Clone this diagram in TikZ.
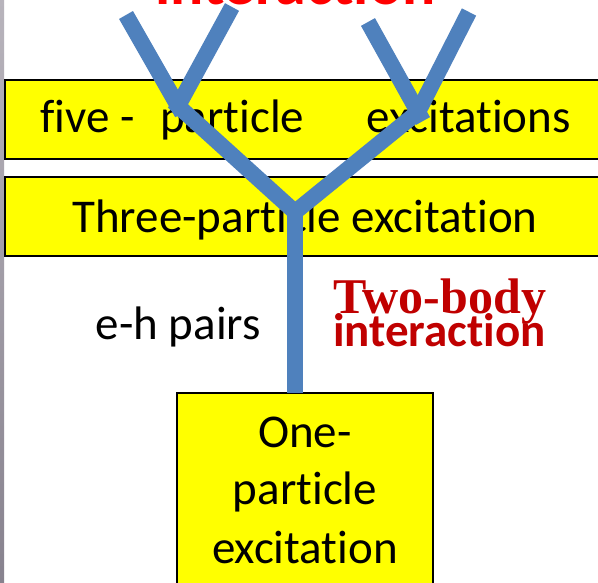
\documentclass[tikz,border=0pt]{standalone}
\usepackage{fontspec}
\usetikzlibrary{calc}
\setmainfont{Carlito}[Ligatures={NoCommon,NoContextual}]
\newfontfamily\serifbold{Liberation Serif}
\definecolor{boxyellow}{HTML}{FFFF00}
\definecolor{branchblue}{HTML}{4F81BD}
\definecolor{darkred}{HTML}{C00000}
\definecolor{brightred}{HTML}{FF0000}
\definecolor{stripA}{HTML}{B8B4BC}
\definecolor{stripB}{HTML}{87828E}
\tikzset{
  levelbox/.style={draw=black, line width=2pt, fill=boxyellow},
  boxtext/.style={inner sep=0pt, font=\fontsize{47}{58}\selectfont, text=black},
  branch/.style={draw=branchblue, line width=16pt, line cap=butt, line join=miter},
  redlabel/.style={inner sep=0pt}
}
\begin{document}
\begin{tikzpicture}[x=1pt, y=-1pt]
\useasboundingbox (0,0) rectangle (598,583);
\fill[white] (0,0) rectangle (598,583);
% gray strip at left edge
\shade[top color=stripA, bottom color=stripB] (0,0) rectangle (4,583);
% boxes
\path[levelbox] (5,80) rectangle (610,159);
\path[levelbox] (5,177) rectangle (610,256);
\path[levelbox] (177,393) rectangle (433,600);
% box texts
\node[boxtext, anchor=base west] (five) at (40,133) {five -};
\node[boxtext, anchor=base west] (part) at (160,133) {particle};
\node[boxtext, anchor=base east] (exc) at (571,133) {excitations};
\node[boxtext, anchor=base] (three) at (305,233) {Three-particle excitation};
\node[boxtext, anchor=base] (one1) at (305,447) {One-};
\node[boxtext, anchor=base] (one2) at (305,504) {particle};
\node[boxtext, anchor=base] (one3) at (305,563) {excitation};
% free labels
\node[boxtext, anchor=base east] (eh) at (261,340) {e-h pairs};
\node[redlabel, anchor=base west, font=\serifbold\bfseries\fontsize{50}{50}\selectfont, text=darkred] (two) at (333,313) {Two-body};
\node[redlabel, anchor=base west, font=\bfseries\fontsize{47}{47}\selectfont, text=darkred] (inter2) at (333,347) {interaction};
\node[redlabel, anchor=base west, font=\bfseries\fontsize{62}{62}\selectfont, text=brightred] (inter1) at (155,5) {interaction};
% branching lines
\coordinate (la) at (126,15);
\coordinate (lb) at (232,7);
\coordinate (lv) at (178,106);
\coordinate (ra) at (368,22);
\coordinate (rb) at (469,12);
\coordinate (rv) at (418,112);
\coordinate (j) at (295,212);
\coordinate (s) at (295,393);
\draw[branch] (la) -- ($(la)!1.08!(lv)$);
\draw[branch] (lb) -- (lv) -- (j);
\draw[branch] (ra) -- ($(ra)!1.1!(rv)$);
\draw[branch] (rb) -- (rv) -- (j);
\draw[branch] (j) -- (s);
\end{tikzpicture}
\end{document}
